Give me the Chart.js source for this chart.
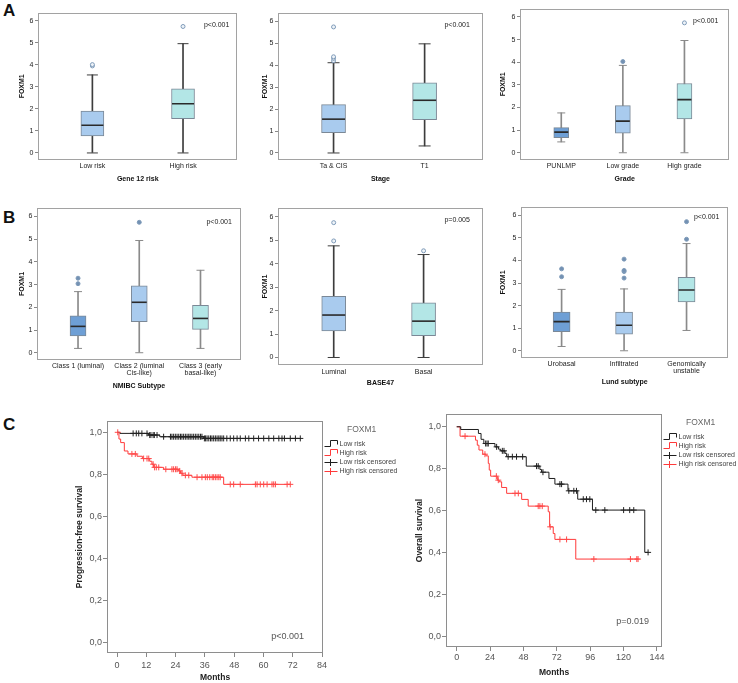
<!DOCTYPE html>
<html><head><meta charset="utf-8">
<script src="https://cdn.jsdelivr.net/npm/chart.js@4.4.1/dist/chart.umd.min.js"></script>
<style>
html,body{margin:0;padding:0;background:#fff;}
body{width:738px;height:683px;position:relative;overflow:hidden;font-family:"Liberation Sans",Arial,sans-serif;}
canvas{position:absolute;}
.lt{position:absolute;font:bold 17px "Liberation Sans",Arial,sans-serif;line-height:17px;color:#111;}
</style></head><body>
<div class="lt" style="left:3px;top:2px">A</div>
<div class="lt" style="left:3px;top:209px">B</div>
<div class="lt" style="left:3px;top:416px">C</div>
<script>
// ---------------- DATA ----------------
const BOX_Y_TICKS = [0, 1, 2, 3, 4, 5, 6];
const KM_Y_TICKS = [0, 0.2, 0.4, 0.6, 0.8, 1.0];
const C1_X_TICKS = [0, 12, 24, 36, 48, 60, 72, 84];
const C2_X_TICKS = [0, 24, 48, 72, 96, 120, 144];

// A1 Gene 12 risk
const A1_CATS = ['Low risk', 'High risk'];
const A1_LO  = [0.00, 0.00];
const A1_Q1  = [0.77, 1.56];
const A1_MED = [1.26, 2.23];
const A1_Q3  = [1.90, 2.91];
const A1_HI  = [3.54, 4.96];
const A1_OUT = [[3.95, 4.01], [5.74]];

// A2 Stage
const A2_CATS = ['Ta & CIS', 'T1'];
const A2_LO  = [0.00, 0.32];
const A2_Q1  = [0.93, 1.52];
const A2_MED = [1.54, 2.40];
const A2_Q3  = [2.20, 3.19];
const A2_HI  = [4.11, 4.97];
const A2_OUT = [[4.20, 4.31, 4.38, 5.74], []];

// A3 Grade
const A3_CATS = ['PUNLMP', 'Low grade', 'High grade'];
const A3_LO  = [0.48, 0.00, 0.00];
const A3_Q1  = [0.67, 0.87, 1.50];
const A3_MED = [0.91, 1.40, 2.35];
const A3_Q3  = [1.11, 2.08, 3.06];
const A3_HI  = [1.76, 3.86, 4.96];
const A3_OUT = [[], [4.03], [5.74]];

// B1 NMIBC Subtype
const B1_CATS = ['Class 1 (luminal)', ['Class 2 (luminal', 'Cis-like)'], ['Class 3 (early', 'basal-like)']];
const B1_LO  = [0.19, 0.00, 0.19];
const B1_Q1  = [0.74, 1.37, 1.03];
const B1_MED = [1.16, 2.22, 1.51];
const B1_Q3  = [1.62, 2.94, 2.09];
const B1_HI  = [2.69, 4.94, 3.63];
const B1_OUT = [[3.04, 3.28], [5.74], []];

// B2 BASE47
const B2_CATS = ['Luminal', 'Basal'];
const B2_LO  = [0.00, 0.00];
const B2_Q1  = [1.13, 0.93];
const B2_MED = [1.81, 1.55];
const B2_Q3  = [2.61, 2.33];
const B2_HI  = [4.76, 4.39];
const B2_OUT = [[4.97, 5.75], [4.55]];

// B3 Lund subtype
const B3_CATS = ['Urobasal', 'Infiltrated', ['Genomically', 'unstable']];
const B3_LO  = [0.19, 0.00, 0.90];
const B3_Q1  = [0.85, 0.74, 2.16];
const B3_MED = [1.29, 1.13, 2.69];
const B3_Q3  = [1.71, 1.72, 3.25];
const B3_HI  = [2.72, 2.74, 4.75];
const B3_OUT = [[3.28, 3.63], [3.22, 3.51, 3.56, 4.06], [4.94, 5.72]];

// C1 Progression-free survival (event times / survival after event / censor times)
const C1_LOW_T = [0, 1.2, 13, 17.5, 35.5];
const C1_LOW_S = [1, 0.995, 0.987, 0.979, 0.971];
const C1_LOW_CENS = [6.6, 7.9, 8.9, 10.2, 12.3, 13.4, 13.9, 14.8, 15.3, 16.4, 19.1, 21.9, 22.5, 23.2, 23.9, 24.6, 25.3, 26, 26.6, 27.3, 28, 28.7, 29.4, 30, 30.7, 31.4, 32.1, 32.8, 33.5, 34.2, 34.8, 35.8, 36.3, 36.9, 37.6, 38.3, 38.9, 39.6, 40.3, 41, 41.7, 42.3, 43, 43.7, 45, 46.4, 47.8, 49.2, 50.5, 52.6, 54, 56, 58, 60.1, 62.2, 64.2, 66.3, 67.6, 68.6, 71, 73.1, 75.1];
const C1_HIGH_T = [0, 0.8, 1.5, 3.0, 4.5, 8.2, 10.4, 13.4, 14.3, 15.0, 19.1, 25.3, 26.0, 27.0, 30.7, 43.7];
const C1_HIGH_S = [1, 0.968, 0.951, 0.911, 0.897, 0.886, 0.875, 0.862, 0.848, 0.833, 0.824, 0.816, 0.805, 0.795, 0.786, 0.752];
const C1_HIGH_CENS = [0.3, 6.1, 7.5, 10.9, 12.3, 13, 14.8, 15.4, 16.1, 17.1, 20, 22.5, 23.2, 24, 24.6, 25.7, 26.6, 28, 29.4, 32.8, 34.8, 36.2, 37, 38, 39, 39.6, 40.3, 41, 41.7, 42.3, 46.4, 47.8, 50.5, 56.7, 57.4, 58.7, 60.1, 61.5, 63.5, 64.2, 64.9, 69.7, 71];

// C2 Overall survival
const C2_LOW_T = [0, 2.9, 15.6, 17.5, 19.5, 27.5, 30, 31.6, 34.7, 35.9, 50, 59.8, 61, 66.3, 70.6, 80, 87, 97.6, 135.2];
const C2_LOW_S = [1, 0.987, 0.968, 0.94, 0.92, 0.904, 0.893, 0.885, 0.873, 0.857, 0.812, 0.796, 0.783, 0.753, 0.726, 0.694, 0.654, 0.602, 0.40];
const C2_LOW_CENS = [20.8, 21.8, 22.7, 28.7, 32.8, 34, 37, 40, 43, 47.4, 57.4, 58.6, 62, 74.2, 75.4, 80.6, 84.2, 86.1, 91, 93.3, 95.7, 100, 106.5, 120, 124.4, 127.3, 137.6];
const C2_HIGH_T = [0, 2.4, 13.5, 14.8, 16, 18.7, 21, 22.7, 23.4, 24.4, 29.2, 30.5, 32.3, 35.9, 46.7, 51.4, 65.8, 66.8, 69.4, 70.6, 85.6];
const C2_HIGH_S = [1, 0.955, 0.936, 0.912, 0.889, 0.869, 0.861, 0.825, 0.793, 0.764, 0.745, 0.737, 0.71, 0.682, 0.653, 0.621, 0.594, 0.522, 0.49, 0.462, 0.368];
const C2_HIGH_CENS = [6, 20.3, 28.5, 29.9, 41.9, 44.3, 58.6, 59.8, 61.5, 67.2, 74.2, 79, 98.6, 124.9, 129.5, 130.4];

// ---------------- STYLE / HELPERS ----------------
const FAM = "'Liberation Sans', Arial, Helvetica, sans-serif";
Chart.defaults.font.family = FAM;
Chart.defaults.animation = false;
Chart.defaults.events = [];
Chart.defaults.plugins.legend.display = false;
Chart.defaults.plugins.tooltip.enabled = false;

const C_LIGHT = '#a9cbee', C_CYAN = '#b3e6e6', C_DARK = '#6e9fd5';

function mkCanvas(id, x, y, w, h) {
  const c = document.createElement('canvas');
  c.id = id; c.width = w; c.height = h;
  c.style.left = x + 'px'; c.style.top = y + 'px';
  c.style.width = w + 'px'; c.style.height = h + 'px';
  document.body.appendChild(c);
  return c;
}

const framePlugin = {
  id: 'frame',
  afterDatasetsDraw(chart, args, o) {
    const {ctx, chartArea: a} = chart;
    ctx.save();
    ctx.strokeStyle = o.color || '#999';
    ctx.lineWidth = 1;
    ctx.strokeRect(Math.round(a.left) + 0.5, Math.round(a.top) + 0.5,
                   Math.round(a.right) - Math.round(a.left) - 1, Math.round(a.bottom) - Math.round(a.top) - 1);
    ctx.restore();
  }
};

const notePlugin = {
  id: 'note',
  afterDraw(chart, args, o) {
    if (!o || !o.text) return;
    const {ctx, chartArea: a} = chart;
    ctx.save();
    ctx.font = o.size + 'px ' + FAM;
    ctx.fillStyle = o.color || '#222';
    ctx.textAlign = 'right';
    ctx.textBaseline = 'middle';
    const y = o.fromBottom ? a.bottom - o.dy : a.top + o.dy;
    ctx.fillText(o.text, a.right - o.dx, y);
    ctx.restore();
  }
};

const kmLegendPlugin = {
  id: 'kmLegend',
  afterDraw(chart, args, o) {
    if (!o || !o.items) return;
    const {ctx, chartArea: a} = chart;
    ctx.save();
    ctx.textBaseline = 'middle'; ctx.textAlign = 'left';
    ctx.font = '8.5px ' + FAM; ctx.fillStyle = '#666';
    ctx.fillText(o.title, a.right + 24, a.top + 8.5);
    const x0 = Math.round(a.right) + 1.5;
    o.items.forEach((it, k) => {
      const y = Math.round(a.top + 22.5 + k * 9);
      ctx.strokeStyle = it.color; ctx.lineWidth = 1;
      ctx.beginPath();
      if (it.kind === 'step') {
        ctx.moveTo(x0, y + 2.5); ctx.lineTo(x0 + 6, y + 2.5); ctx.lineTo(x0 + 6, y - 3.5);
        ctx.lineTo(x0 + 13, y - 3.5); ctx.lineTo(x0 + 13, y + 0.5);
      } else {
        ctx.moveTo(x0, y + 0.5); ctx.lineTo(x0 + 13, y + 0.5);
        ctx.moveTo(x0 + 6, y - 3); ctx.lineTo(x0 + 6, y + 4);
      }
      ctx.stroke();
      ctx.font = '7px ' + FAM; ctx.fillStyle = '#444';
      ctx.fillText(it.label, x0 + 15, y);
    });
    ctx.restore();
  }
};

function boxChart(o) {
  const [cx, cy, cw, ch] = o.canvas;
  const [L, T, R, B] = o.plot;
  const yw = L - cx, xh = cy + ch - B, padTop = T - cy, padRight = cx + cw - R;
  const c = mkCanvas(o.id, cx, cy, cw, ch);
  const idx = o.cats.map((_, i) => i);
  const caps = [];
  idx.forEach(i => { caps.push({x: i, y: o.lo[i]}); caps.push({x: i, y: o.hi[i]}); });
  const outs = [], outFill = [];
  idx.forEach(i => o.out[i].forEach(v => { outs.push({x: i, y: v}); outFill.push(o.outFill[i]); }));
  new Chart(c, {
    type: 'bar',
    data: {
      datasets: [
        {type: 'bar', data: idx.map(i => ({x: i, y: [o.lo[i], o.hi[i]]})), backgroundColor: o.whisker,
         borderWidth: 0, barThickness: 1, maxBarThickness: 1, grouped: false, order: 3},
        {type: 'bar', data: idx.map(i => ({x: i, y: [o.q1[i], o.q3[i]]})), backgroundColor: o.fills,
         borderColor: '#7b8896', borderWidth: 1, borderSkipped: false, barThickness: o.bw, maxBarThickness: o.bw,
         grouped: false, order: 2},
        {type: 'line', data: idx.map(i => ({x: i, y: o.med[i]})), showLine: false, pointStyle: 'line',
         pointRadius: o.bw / 2 - 0.5, pointBorderWidth: 1.6, pointBorderColor: '#2a2a2a', order: 1},
        {type: 'line', data: caps, showLine: false, pointStyle: 'line', pointRadius: o.cap,
         pointBorderWidth: 1, pointBorderColor: o.whisker, order: 1},
        {type: 'line', data: outs, showLine: false, pointStyle: 'circle', pointRadius: 2,
         pointBorderWidth: 1, pointBorderColor: '#7f9bb9', pointBackgroundColor: outFill, order: 0}
      ]
    },
    options: {
      responsive: false, maintainAspectRatio: false,
      layout: {padding: {left: 0, top: padTop, right: padRight, bottom: 0}},
      scales: {
        x: {
          type: 'linear', min: o.xr[0], max: o.xr[1], offset: false,
          afterBuildTicks: s => { s.ticks = idx.map(v => ({value: v})); },
          afterFit: s => { s.height = xh; },
          ticks: {callback: v => o.cats[Math.round(v)], autoSkip: false, maxRotation: 0, minRotation: 0,
                  font: {size: 7, lineHeight: 1.0}, color: '#222', padding: o.xlp},
          grid: {drawOnChartArea: false, drawTicks: false, display: true},
          border: {display: false},
          title: {display: true, text: o.xTitle, font: {size: 7, weight: 'bold'}, color: '#111',
                  padding: {top: 0, bottom: o.xtp}}
        },
        y: {
          min: -0.32, max: 6.37,
          afterBuildTicks: s => { s.ticks = BOX_Y_TICKS.map(v => ({value: v})); },
          afterFit: s => { s.width = yw; },
          ticks: {font: {size: 7}, color: '#222', padding: 1.5},
          grid: {drawOnChartArea: false, drawTicks: true, tickLength: 3, color: '#888'},
          border: {display: false},
          title: {display: true, text: 'FOXM1', font: {size: 7, weight: 'bold'}, color: '#111',
                  padding: {top: o.ytp, bottom: 0}}
        }
      },
      plugins: {
        frame: {color: '#a2a2a2'},
        note: {text: o.p, dx: o.pdx, dy: o.pdy, size: 7, color: '#222'}
      }
    },
    plugins: [framePlugin, notePlugin]
  });
}

function survAt(Ts, Ss, t) {
  let s = Ss[0];
  for (let i = 0; i < Ts.length; i++) if (Ts[i] <= t) s = Ss[i];
  return s;
}

function kmChart(o) {
  const [cx, cy, cw, ch] = o.canvas;
  const [L, T, R, B] = o.plot;
  const yw = L - cx, xh = cy + ch - B, padTop = T - cy, padRight = cx + cw - R;
  const c = mkCanvas(o.id, cx, cy, cw, ch);
  const curve = (Ts, Ss, Cs) => Ts.map((t, i) => ({x: t, y: Ss[i]}))
      .concat([{x: Math.max(Ts[Ts.length - 1], ...Cs), y: Ss[Ss.length - 1]}]);
  const cens = (Ts, Ss, Cs) => Cs.map(t => ({x: t, y: survAt(Ts, Ss, t)}));
  const BLK = '#1e1e1e', RED = '#ff3a3a';
  new Chart(c, {
    type: 'line',
    data: {
      datasets: [
        {data: curve(o.lowT, o.lowS, o.lowC), stepped: true, borderColor: BLK, borderWidth: 1, pointRadius: 0, order: 2},
        {data: curve(o.highT, o.highS, o.highC), stepped: true, borderColor: RED, borderWidth: 1, pointRadius: 0, order: 2},
        {data: cens(o.lowT, o.lowS, o.lowC), showLine: false, pointStyle: 'cross', pointRadius: 3,
         pointBorderWidth: 1, pointBorderColor: '#222', order: 1},
        {data: cens(o.highT, o.highS, o.highC), showLine: false, pointStyle: 'cross', pointRadius: 3,
         pointBorderWidth: 1, pointBorderColor: '#ff4a4a', order: 1}
      ]
    },
    options: {
      responsive: false, maintainAspectRatio: false,
      layout: {padding: {left: 0, top: padTop, right: padRight, bottom: 0}},
      scales: {
        x: {
          type: 'linear', min: o.xr[0], max: o.xr[1],
          afterBuildTicks: s => { s.ticks = o.xTicks.map(v => ({value: v})); },
          afterFit: s => { s.height = xh; },
          ticks: {font: {size: 9}, color: '#555', padding: o.xlp, autoSkip: false, maxRotation: 0},
          grid: {drawOnChartArea: false, drawTicks: true, tickLength: 4, color: '#888'},
          border: {display: false},
          title: {display: true, text: 'Months', font: {size: 8.5, weight: 'bold'}, color: '#222',
                  padding: {top: 0, bottom: o.xtp}}
        },
        y: {
          min: -0.052, max: o.ymax,
          afterBuildTicks: s => { s.ticks = KM_Y_TICKS.map(v => ({value: v})); },
          afterFit: s => { s.width = yw; },
          ticks: {font: {size: 9}, color: '#555', padding: 1,
                  callback: v => v.toFixed(1).replace('.', ',')},
          grid: {drawOnChartArea: false, drawTicks: true, tickLength: 4, color: '#888'},
          border: {display: false},
          title: {display: true, text: o.yTitle, font: {size: 8.5, weight: 'bold'}, color: '#222',
                  padding: {top: o.ytp, bottom: 0}}
        }
      },
      plugins: {
        frame: {color: '#8e8e8e'},
        note: {text: o.p, dx: o.pdx, dy: o.pdy, fromBottom: true, size: 9, color: '#555'},
        kmLegend: {title: 'FOXM1', items: [
          {label: 'Low risk', color: BLK, kind: 'step'},
          {label: 'High risk', color: RED, kind: 'step'},
          {label: 'Low risk censored', color: BLK, kind: 'cens'},
          {label: 'High risk censored', color: RED, kind: 'cens'}
        ]}
      }
    },
    plugins: [framePlugin, notePlugin, kmLegendPlugin]
  });
}

// ---------------- CHARTS ----------------
const DARKW = '#3d3d3d', GREYW = '#8a8a8a';
const RING = '#eef3f8', FILLD = '#7391b3';

boxChart({id: 'a1', canvas: [0, 0, 250, 186], plot: [38, 1, 247, 160], cats: A1_CATS,
  lo: A1_LO, q1: A1_Q1, med: A1_MED, q3: A1_Q3, hi: A1_HI, out: A1_OUT,
  fills: [C_LIGHT, C_CYAN], outFill: [RING, RING], whisker: DARKW, bw: 23, cap: 5.5,
  xr: [-0.6, 1.6], xTitle: 'Gene 12 risk', xlp: 2.8, xtp: 2.8, ytp: 17.5, p: 'p<0.001', pdx: 8, pdy: 12});

boxChart({id: 'a2', canvas: [245, 0, 251, 186], plot: [278, 1, 493, 160], cats: A2_CATS,
  lo: A2_LO, q1: A2_Q1, med: A2_MED, q3: A2_Q3, hi: A2_HI, out: A2_OUT,
  fills: [C_LIGHT, C_CYAN], outFill: [RING, RING], whisker: DARKW, bw: 24, cap: 6,
  xr: [-0.61, 1.64], xTitle: 'Stage', xlp: 2.8, xtp: 2.8, ytp: 15.8, p: 'p<0.001', pdx: 13, pdy: 12});

boxChart({id: 'a3', canvas: [490, 0, 248, 186], plot: [520, 1, 733, 160], cats: A3_CATS,
  lo: A3_LO, q1: A3_Q1, med: A3_MED, q3: A3_Q3, hi: A3_HI, out: A3_OUT,
  fills: [C_DARK, C_LIGHT, C_CYAN], outFill: [FILLD, FILLD, RING], whisker: GREYW, bw: 15, cap: 4,
  xr: [-0.67, 2.73], xTitle: 'Grade', xlp: 2.8, xtp: 2.8, ytp: 8.8, p: 'p<0.001', pdx: 11, pdy: 12});

boxChart({id: 'b1', canvas: [0, 195, 250, 195], plot: [37, 208, 246, 360], cats: B1_CATS,
  lo: B1_LO, q1: B1_Q1, med: B1_MED, q3: B1_Q3, hi: B1_HI, out: B1_OUT,
  fills: [C_DARK, C_LIGHT, C_CYAN], outFill: [FILLD, FILLD, FILLD], whisker: GREYW, bw: 16, cap: 4,
  xr: [-0.67, 2.66], xTitle: 'NMIBC Subtype', xlp: 2.8, xtp: 0, ytp: 17.5, p: 'p<0.001', pdx: 9, pdy: 14});

boxChart({id: 'b2', canvas: [245, 195, 251, 195], plot: [278, 207, 493, 365], cats: B2_CATS,
  lo: B2_LO, q1: B2_Q1, med: B2_MED, q3: B2_Q3, hi: B2_HI, out: B2_OUT,
  fills: [C_LIGHT, C_CYAN], outFill: [RING, RING], whisker: DARKW, bw: 24, cap: 6,
  xr: [-0.62, 1.66], xTitle: 'BASE47', xlp: 3.5, xtp: 2.8, ytp: 15.8, p: 'p=0.005', pdx: 13, pdy: 12});

boxChart({id: 'b3', canvas: [490, 195, 248, 195], plot: [521, 207, 729, 358], cats: B3_CATS,
  lo: B3_LO, q1: B3_Q1, med: B3_MED, q3: B3_Q3, hi: B3_HI, out: B3_OUT,
  fills: [C_DARK, C_LIGHT, C_CYAN], outFill: [FILLD, FILLD, FILLD], whisker: GREYW, bw: 17, cap: 4,
  xr: [-0.65, 2.67], xTitle: 'Lund subtype', xlp: 2.8, xtp: 3.8, ytp: 8.8, p: 'p<0.001', pdx: 9, pdy: 10});

kmChart({id: 'c1', canvas: [60, 395, 340, 288], plot: [107, 421, 323, 653],
  lowT: C1_LOW_T, lowS: C1_LOW_S, lowC: C1_LOW_CENS, highT: C1_HIGH_T, highS: C1_HIGH_S, highC: C1_HIGH_CENS,
  xr: [-4.1, 84.4], ymax: 1.054, xTicks: C1_X_TICKS, yTitle: 'Progression-free survival',
  xlp: 3, xtp: 0, ytp: 14.9, p: 'p<0.001', pdx: 19, pdy: 16});

kmChart({id: 'c2', canvas: [405, 395, 333, 283], plot: [446, 414, 662, 647],
  lowT: C2_LOW_T, lowS: C2_LOW_S, lowC: C2_LOW_CENS, highT: C2_HIGH_T, highS: C2_HIGH_S, highC: C2_HIGH_CENS,
  xr: [-7.7, 147.6], ymax: 1.061, xTicks: C2_X_TICKS, yTitle: 'Overall survival',
  xlp: 1, xtp: 0.2, ytp: 9.9, p: 'p=0.019', pdx: 13, pdy: 25});
</script>
</body></html>
